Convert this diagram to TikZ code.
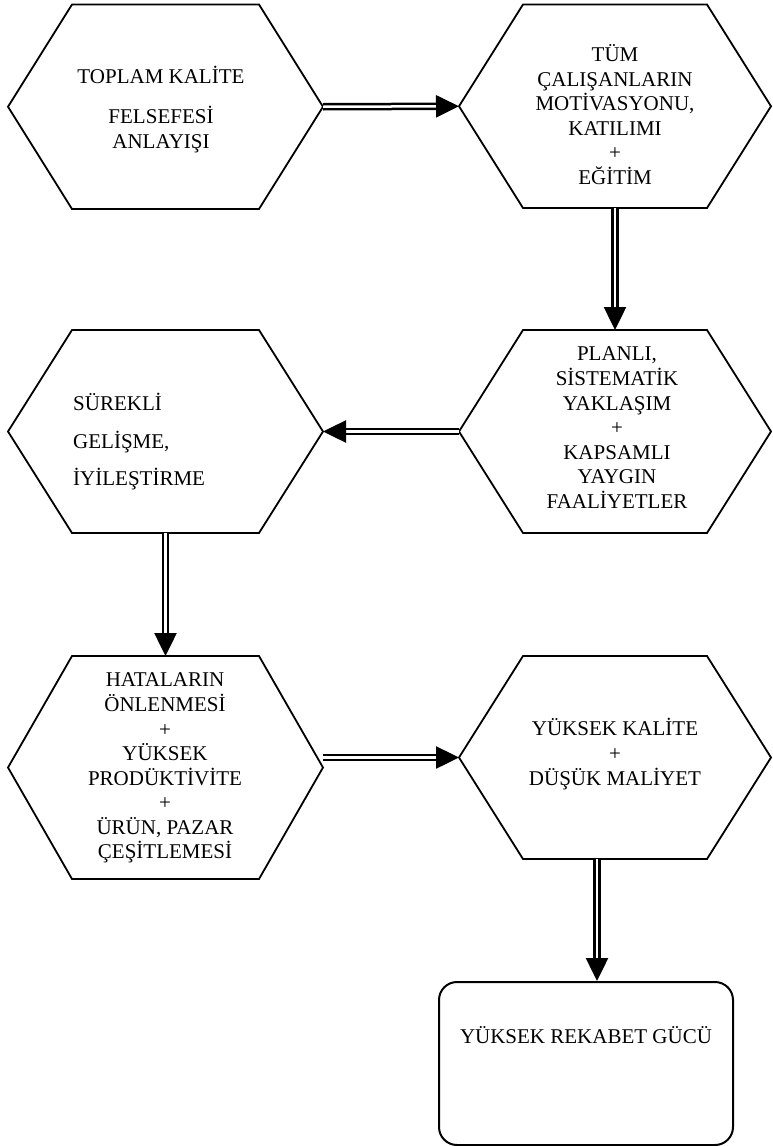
\documentclass[tikz,border=0pt]{standalone}
\usepackage{fontspec}
\setmainfont{Liberation Serif}
\usetikzlibrary{arrows.meta}

% outline of a hexagon with pointed left and right ends, built on a bare box node
\newcommand\hexframe[1]{%
  \draw[frame] ([xshift=64pt]#1.north west) -- ([xshift=-64pt]#1.north east)
    -- (#1.east) -- ([xshift=-64pt]#1.south east)
    -- ([xshift=64pt]#1.south west) -- (#1.west) -- cycle;}

\begin{document}
\begin{tikzpicture}[x=1pt,y=-1pt,
  hexbox/.style={draw=none,inner sep=0pt,outer sep=0pt},
  frame/.style={draw=black,line width=1.8pt,line join=miter},
  hextext/.style={inner sep=0pt,align=center,anchor=north,
    font=\fontsize{21}{24.5}\selectfont},
  flow/.style={draw=black,double=white,line width=2.5pt,double distance=2.5pt,
    -{Triangle[length=23pt,width=22pt]}},
  endbox/.style={draw=black,line width=2pt,rounded corners=18pt,inner sep=0pt,
    minimum width=294pt,text height=61pt,text depth=102pt,
    font=\fontsize{21}{24.5}\selectfont}]

\useasboundingbox (0,0) rectangle (772,1146);

% hexagon boxes
\node[hexbox,minimum width=315pt,minimum height=204.5pt] (h1) at (165.5,106.75) {};
\node[hexbox,minimum width=312pt,minimum height=203.5pt] (h2) at (615,106.25) {};
\node[hexbox,minimum width=312pt,minimum height=203pt]   (h3) at (615,431.5) {};
\node[hexbox,minimum width=315pt,minimum height=203pt]   (h4) at (165.5,431.5) {};
\node[hexbox,minimum width=315pt,minimum height=223pt]   (h5) at (165.5,767.5) {};
\node[hexbox,minimum width=312pt,minimum height=203pt]   (h6) at (615,757.5) {};
\foreach \h in {h1,h2,h3,h4,h5,h6} {\hexframe{\h}}

% texts
\node[hextext] (t1) at (161,65.85)
  {\strut TOPLAM KALİTE\\[14.5pt] FELSEFESİ\\ ANLAYIŞI};
\node[hextext] (t2) at (615,44.55)
  {\strut TÜM\\ ÇALIŞANLARIN\\ MOTİVASYONU,\\ KATILIMI\\ +\\ EĞİTİM};
\node[hextext] (t3) at (617,342.85)
  {\strut PLANLI,\\ SİSTEMATİK\\ YAKLAŞIM\\ +\\ KAPSAMLI\\ YAYGIN\\ FAALİYETLER};
\node[hextext,align=left,anchor=north west] (t4) at (73,392.85)
  {\strut SÜREKLİ\\[12.5pt] GELİŞME,\\[12.5pt] İYİLEŞTİRME};
\node[hextext] (t5) at (165,668.85)
  {\strut HATALARIN\\ ÖNLENMESİ\\ +\\ YÜKSEK\\ PRODÜKTİVİTE\\ +\\ ÜRÜN, PAZAR\\ ÇEŞİTLEMESİ};
\node[hextext] (t6) at (615,717.85)
  {\strut YÜKSEK KALİTE\\[0.5pt] +\\[0.5pt] DÜŞÜK MALİYET};

% final box
\node[endbox] (r) at (586,1063.5) {YÜKSEK REKABET GÜCÜ};

% connectors
\draw[flow] (h1.east) -- (h2.west);
\draw[flow] (h2.south) -- (h3.north);
\draw[flow] (h3.west) -- (h4.east);
\draw[flow] (h4.south) -- (h5.north);
\draw[flow] (h6.west -| h5.east) -- (h6.west);
\coordinate (c6) at ([xshift=-18pt]h6.south);
\draw[flow] (c6) -- (c6 |- r.north);

\end{tikzpicture}
\end{document}
